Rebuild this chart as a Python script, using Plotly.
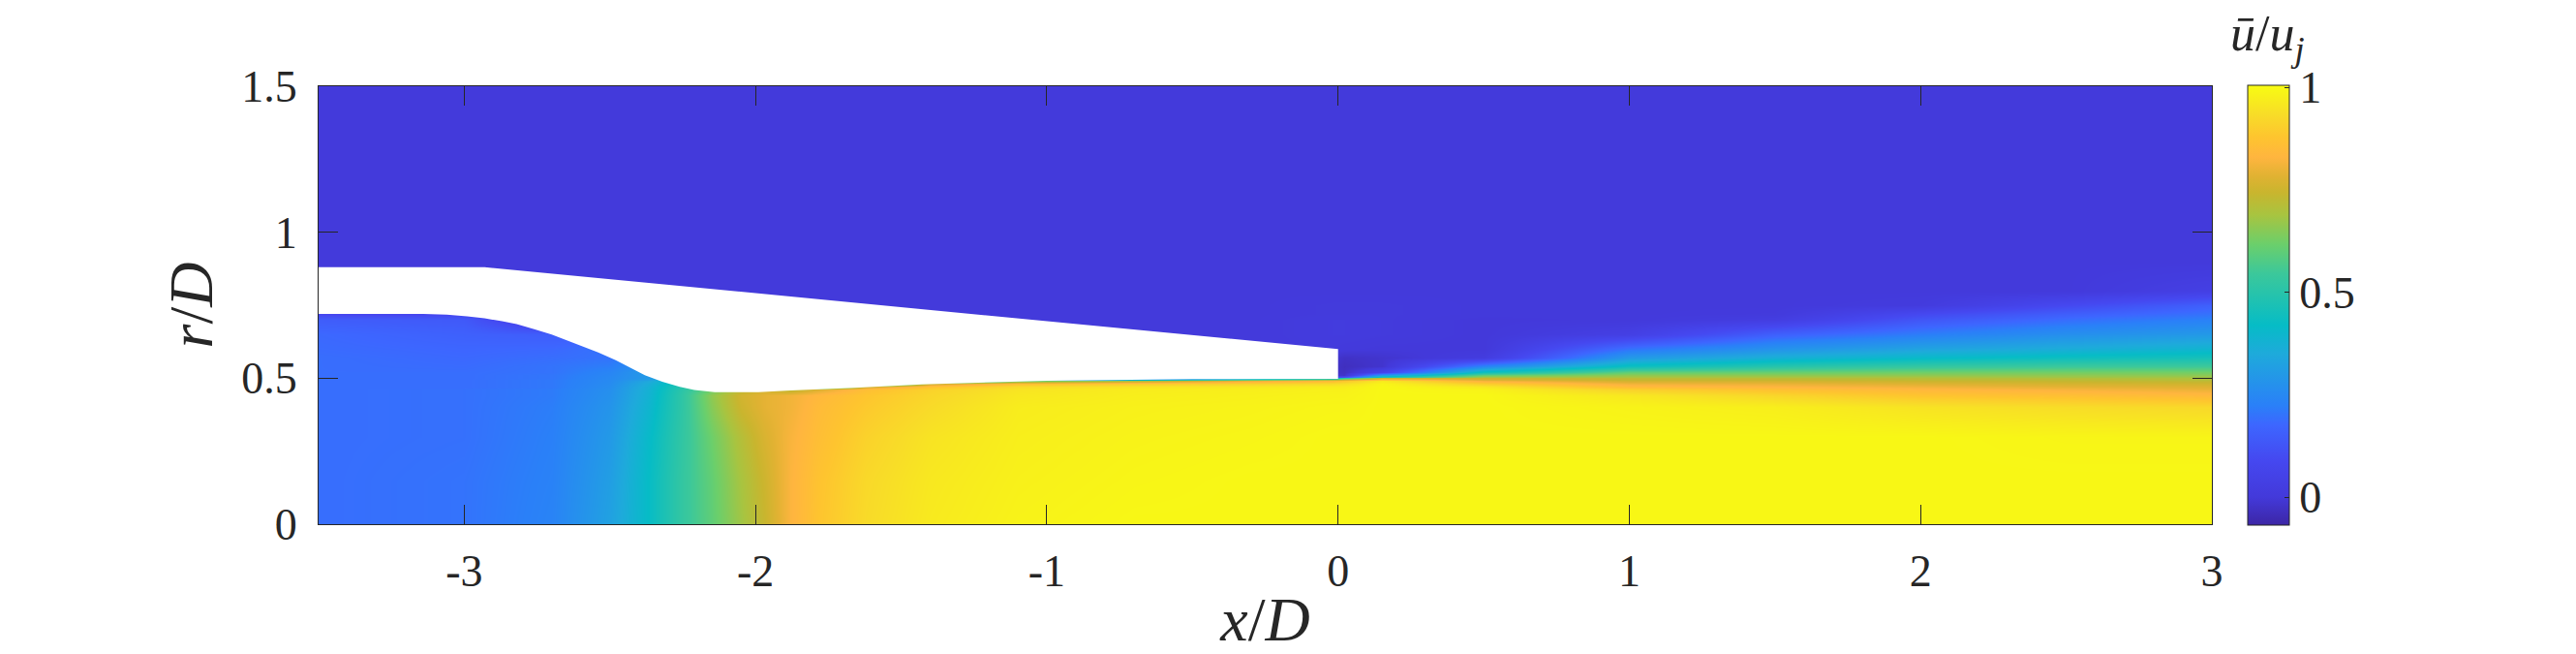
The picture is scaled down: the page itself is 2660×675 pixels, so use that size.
import plotly.graph_objects as go

# stations along the axis and radial rows
x_stations = [-3.5, -3, -2.7, -2.5, -2.37, -2.25, -2.15, -2.05, -1.97, -1.88, -1.78, -1.62, -1.4, -1.1, -0.7, -0.3,
              -0.02, 0.02, 0.15, 0.5, 1, 1.5, 2, 2.5, 3]
r_rows = [0, 0.15, 0.3, 0.4, 0.44, 0.46, 0.47, 0.48, 0.49, 0.495, 0.5, 0.505, 0.51, 0.52, 0.54, 0.57, 0.6, 0.65,
          0.7, 0.72, 0.75, 0.8, 0.9, 1.1, 1.5]

# mean velocity profiles, one per station, in r_rows order
u_m350 = [.19, .19, .19, .19, .19, .19, .19, .19, .19, .19, .19, .19, .19, .19, .19, .19, .185, .18, .15, .08, .005, .005, .005, .005, .005]
u_m300 = [.20, .20, .195, .195, .195, .195, .19, .19, .19, .19, .19, .19, .19, .19, .185, .18, .175, .16, .14, .08, .005, .005, .005, .005, .005]
u_m270 = [.235, .23, .225, .22, .215, .215, .21, .21, .21, .21, .205, .205, .205, .2, .2, .19, .18, .15, .005, .005, .005, .005, .005, .005, .005]
u_m250 = [.325, .315, .30, .285, .275, .27, .265, .26, .255, .255, .25, .25, .245, .24, .22, .2, .2, .15, .005, .005, .005, .005, .005, .005, .005]
u_m237 = [.42, .42, .41, .39, .38, .375, .37, .36, .34, .32, .3, .3, .3, .3, .28, .25, .1, .005, .005, .005, .005, .005, .005, .005, .005]
u_m225 = [.53, .53, .525, .52, .52, .51, .5, .48, .45, .42, .4, .35, .3, .3, .25, .1, .005, .005, .005, .005, .005, .005, .005, .005, .005]
u_m215 = [.60, .605, .62, .65, .66, .62, .58, .55, .5, .48, .45, .42, .4, .35, .1, .005, .005, .005, .005, .005, .005, .005, .005, .005, .005]
u_m205 = [.68, .69, .71, .75, .76, .72, .68, .6, .5, .45, .4, .3, .2, .1, .005, .005, .005, .005, .005, .005, .005, .005, .005, .005, .005]
u_m197 = [.74, .75, .77, .79, .79, .76, .65, .5, .35, .25, .2, .1, .005, .005, .005, .005, .005, .005, .005, .005, .005, .005, .005, .005, .005]
u_m188 = [.825, .825, .82, .81, .81, .72, .4, .2, .005, .005, .005, .005, .005, .005, .005, .005, .005, .005, .005, .005, .005, .005, .005, .005, .005]
u_m178 = [.88, .875, .86, .85, .84, .78, .4, .005, .005, .005, .005, .005, .005, .005, .005, .005, .005, .005, .005, .005, .005, .005, .005, .005, .005]
u_m162 = [.93, .925, .91, .89, .88, .86, .75, .3, .005, .005, .005, .005, .005, .005, .005, .005, .005, .005, .005, .005, .005, .005, .005, .005, .005]
u_m140 = [.965, .96, .95, .93, .92, .91, .87, .75, .3, .005, .005, .005, .005, .005, .005, .005, .005, .005, .005, .005, .005, .005, .005, .005, .005]
u_m110 = [.985, .98, .975, .97, .96, .95, .93, .86, .6, .2, .005, .005, .005, .005, .005, .005, .005, .005, .005, .005, .005, .005, .005, .005, .005]
u_m070 = [.995, .99, .985, .98, .975, .97, .95, .89, .7, .4, .05, .005, .005, .005, .005, .005, .005, .005, .005, .005, .005, .005, .005, .005, .005]
u_m030 = [.995, .995, .99, .985, .98, .975, .96, .91, .8, .6, .2, .005, .005, .005, .005, .005, .005, .005, .005, .005, .005, .005, .005, .005, .005]
u_m002 = [.995, .995, .995, .99, .985, .98, .97, .93, .85, .7, .35, .05, -.01, -.02, -.02, -.01, .01, .015, .015, .01, .01, .005, .005, .005, .005]
u_p002 = [.995, .995, .995, .99, .985, .98, .97, .94, .88, .76, .5, .1, -.02, -.03, -.035, -.025, .005, .015, .015, .01, .01, .005, .005, .005, .005]
u_p015 = [.995, .995, .995, .995, .995, .995, .995, .99, .965, .88, .74, .47, .3, .06, -.015, -.015, 0, .01, .01, .01, .01, .005, .005, .005, .005]
u_p050 = [.995, .995, .995, .995, .995, .985, .96, .90, .82, .78, .74, .68, .6, .44, .24, .02, 0, 0, 0, .005, .005, .005, .005, .005, .005]
u_p100 = [.995, .995, .995, .985, .96, .91, .85, .81, .76, .74, .72, .69, .66, .6, .44, .3, .2, .04, .005, .005, .005, .005, .005, .005, .005]
u_p150 = [.995, .995, .995, .975, .92, .87, .83, .80, .76, .74, .72, .69, .66, .61, .5, .37, .28, .16, .03, .01, .005, .005, .005, .005, .005]
u_p200 = [.995, .995, .995, .95, .88, .84, .81, .78, .745, .73, .71, .69, .66, .62, .53, .41, .33, .22, .13, .09, .015, .005, .005, .005, .005]
u_p250 = [.995, .995, .99, .935, .865, .82, .79, .765, .735, .725, .705, .68, .66, .625, .545, .44, .36, .27, .19, .155, .09, .005, .005, .005, .005]
u_p300 = [.995, .995, .99, .925, .845, .80, .78, .755, .725, .71, .695, .68, .655, .625, .55, .46, .39, .30, .23, .20, .16, .04, .005, .005, .005]

stations = [u_m350, u_m300, u_m270, u_m250, u_m237, u_m225, u_m215, u_m205, u_m197, u_m188, u_m178, u_m162, u_m140,
            u_m110, u_m070, u_m030, u_m002, u_p002, u_p015, u_p050, u_p100, u_p150, u_p200, u_p250, u_p300]
u_grid = [list(row) for row in zip(*stations)]

# nozzle wall outline
nozzle_x = [-3.5, -2.93, 0, 0, -0.5, -1, -1.43, -1.66, -1.88, -1.99, -2.14, -2.21, -2.26, -2.32, -2.38, -2.43, -2.48, -2.54,
            -2.6, -2.65, -2.70, -2.76, -2.82, -2.87, -2.93, -2.99, -3.06, -3.14, -3.5, -3.5]
nozzle_r = [0.88, 0.88, 0.6, 0.498, 0.497, 0.491, 0.479, 0.467, 0.458, 0.452, 0.452, 0.46, 0.47, 0.488, 0.51, 0.535, 0.562, 0.588,
            0.612, 0.632, 0.65, 0.668, 0.685, 0.695, 0.705, 0.712, 0.718, 0.72, 0.72, 0.88]

# colour bar limits and colour stops
u_min = -0.068
u_max = 1.0055
cb_values = [-0.068, 0, 0.09, 0.176, 0.224, 0.35, 0.42, 0.547, 0.617, 0.689, 0.744, 0.783, 0.83, 0.878, 0.933, 1.0055]
cb_colors = ["#3c26a5", "#4339da", "#4548f0", "#3d66ff", "#2a80f8", "#1eaadb", "#06bcc6", "#3cc89a", "#6bcf6b",
             "#a8c440", "#c9b52e", "#e0b232", "#ffb53f", "#fec42f", "#f8dc28", "#f8fc12"]
colorscale = [[(v - u_min) / (u_max - u_min), c] for v, c in zip(cb_values, cb_colors)]

x_ticks = [-3, -2, -1, 0, 1, 2, 3]
r_ticks = [0, 0.5, 1, 1.5]
cb_ticks = [0, 0.5, 1]

ink = "#262626"
font_name = "Liberation Serif"

heat = go.Heatmap(x=x_stations, y=r_rows, z=u_grid, zsmooth="best", colorscale=colorscale, zmin=u_min, zmax=u_max,
                  hoverinfo="skip",
                  colorbar=dict(x=(2321.5 - 328.5) / 1956, xanchor="left", y=-0.002, yanchor="bottom",
                                lenmode="pixels", len=454, thickness=43, thicknessmode="pixels", xpad=0, ypad=0,
                                outlinewidth=1, outlinecolor=ink, borderwidth=0,
                                tickmode="array", tickvals=cb_ticks, ticktext=["0", "0.5", "1"],
                                ticks="inside", ticklen=5, tickwidth=1, tickcolor=ink,
                                tickfont=dict(family=font_name, size=46, color=ink)))
nozzle = go.Scatter(x=nozzle_x, y=nozzle_r, mode="lines", fill="toself", fillcolor="white",
                    line=dict(width=0, color="white"), hoverinfo="skip", showlegend=False)

axis_style = dict(showgrid=False, zeroline=False, showline=True, linecolor=ink, linewidth=1, mirror="allticks",
                  ticks="inside", ticklen=20, tickwidth=1, tickcolor=ink,
                  tickfont=dict(family=font_name, size=46, color=ink))

layout = go.Layout(width=2660, height=675, margin=dict(l=328.5, r=375.5, t=89, b=134, autoexpand=False),
                   paper_bgcolor="white", plot_bgcolor="white", showlegend=False,
                   xaxis=dict(range=[-3.5, 3], tickmode="array", tickvals=x_ticks, ticktext=[str(t) for t in x_ticks],
                              ticklabelstandoff=8,
                              title=dict(text="<i>x</i>/<i>D</i>", standoff=20, font=dict(family=font_name, size=64, color=ink)),
                              **axis_style),
                   yaxis=dict(range=[0, 1.5], tickmode="array", tickvals=r_ticks, ticktext=["0", "0.5", "1", "1.5"],
                              ticklabelstandoff=12,
                              title=dict(text="<i>r</i>/<i>D</i>", standoff=8, font=dict(family=font_name, size=64, color=ink)),
                              **axis_style),
                   annotations=[dict(text="<i>ū</i>/<i>u<sub>j</sub></i>", xref="paper", yref="paper",
                                     x=(2342 - 328.5) / 1956, y=(541 - 39) / 452, xanchor="center", yanchor="middle",
                                     showarrow=False, font=dict(family=font_name, size=52, color=ink))])

fig = go.Figure(data=[heat, nozzle], layout=layout)
fig.write_html("out.html", config={"displayModeBar": False}, post_script="document.body.style.margin='0';")
